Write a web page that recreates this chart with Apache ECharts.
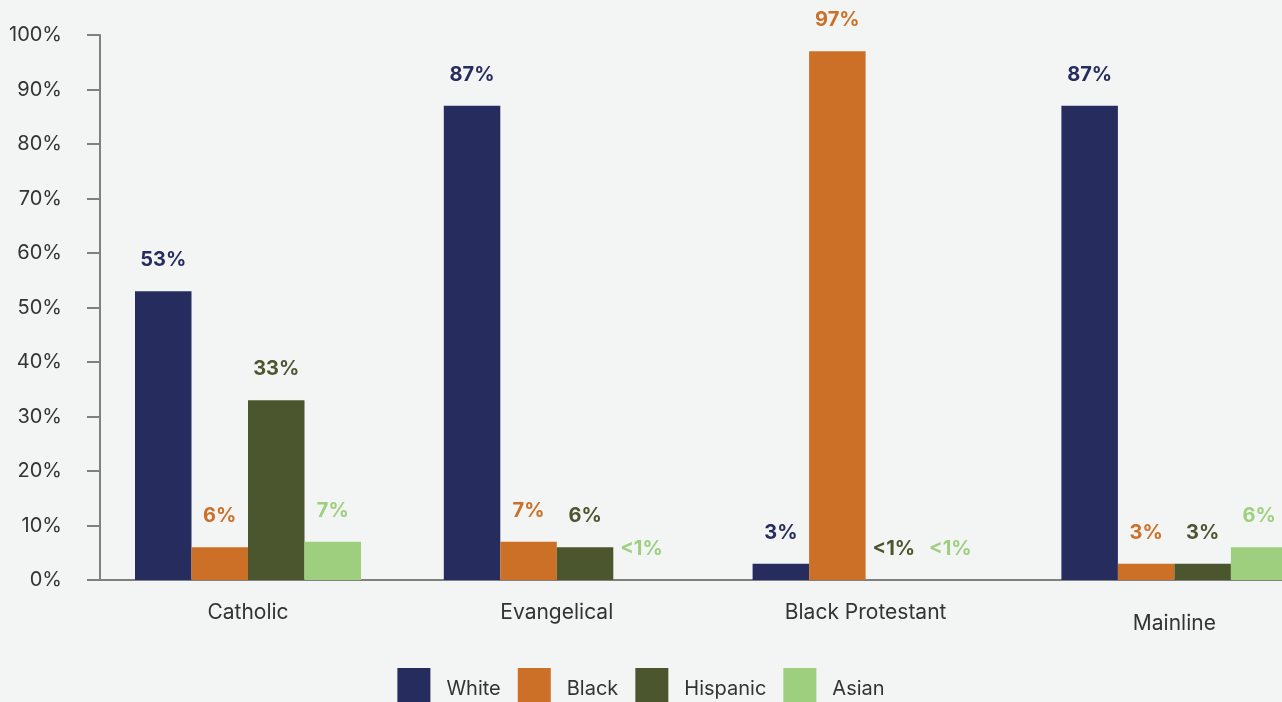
<!DOCTYPE html>
<html>
<head>
<meta charset="utf-8">
<script src="https://cdn.jsdelivr.net/npm/echarts@6/dist/echarts.min.js"></script>
<style>
html,body{margin:0;padding:0;background:#f3f5f4;overflow:hidden;}
#main{width:1282px;height:702px;}
</style>
</head>
<body>
<div id="main"></div>
<script>
const categories = ['Catholic', 'Evangelical', 'Black Protestant', 'Mainline'];
const seriesNames = ['White', 'Black', 'Hispanic', 'Asian'];
const whiteValues = [53, 87, 3, 87];
const blackValues = [6, 7, 97, 3];
const hispanicValues = [33, 6, 0, 3];
const asianValues = [7, 0, 0, 6];
const whiteLabels = ['53%', '87%', '3%', '87%'];
const blackLabels = ['6%', '7%', '97%', '3%'];
const hispanicLabels = ['33%', '6%', '<1%', '3%'];
const asianLabels = ['7%', '<1%', '<1%', '6%'];
const yTicks = [0, 10, 20, 30, 40, 50, 60, 70, 80, 90, 100];
const colors = ['#272c5f', '#cc7027', '#4b552e', '#9dcf7e'];

const FONT = 'Inter';
const valuesList = [whiteValues, blackValues, hispanicValues, asianValues];
const labelsList = [whiteLabels, blackLabels, hispanicLabels, asianLabels];

const chart = echarts.init(document.getElementById('main'));
chart.setOption({
  backgroundColor: '#f3f5f4',
  animation: false,
  textStyle: { fontFamily: FONT },
  grid: { left: 93.6, width: 1235.2, top: 35, bottom: 122, containLabel: false, outerBoundsMode: 'none' },
  legend: {
    data: seriesNames,
    top: 663,
    left: 'center',
    icon: 'rect',
    itemWidth: 33,
    itemHeight: 42,
    itemGap: 17,
    textStyle: { fontFamily: FONT, fontSize: 20, color: '#333333', padding: [0, 0, 0, 11] }
  },
  xAxis: {
    type: 'category',
    data: categories.map((c, i) => i === 3 ? { value: c, textStyle: { padding: [11, 0, 0, 0] } } : c),
    axisTick: { show: false },
    axisLine: { lineStyle: { color: '#808080', width: 2 } },
    axisLabel: { fontFamily: FONT, fontSize: 21, color: '#333333', margin: 22, interval: 0 }
  },
  yAxis: {
    type: 'value',
    min: yTicks[0],
    max: yTicks[yTicks.length - 1],
    interval: 10,
    offset: -6.4,
    splitLine: { show: false },
    axisLine: { show: true, lineStyle: { color: '#808080', width: 2 } },
    axisTick: { show: true, length: 13, lineStyle: { color: '#808080', width: 2 } },
    axisLabel: { fontFamily: FONT, fontSize: 20, color: '#333333', margin: 38, formatter: '{value}%' }
  },
  series: seriesNames.map((name, si) => ({
    name: name,
    type: 'bar',
    barWidth: 56.5,
    barGap: '0%',
    itemStyle: { color: colors[si] },
    label: {
      show: true,
      position: 'top',
      distance: 21,
      fontFamily: FONT,
      fontWeight: 'bold',
      fontSize: 20,
      color: colors[si],
      formatter: (p) => labelsList[si][p.dataIndex]
    },
    data: valuesList[si]
  }))
});
</script>
</body>
</html>
